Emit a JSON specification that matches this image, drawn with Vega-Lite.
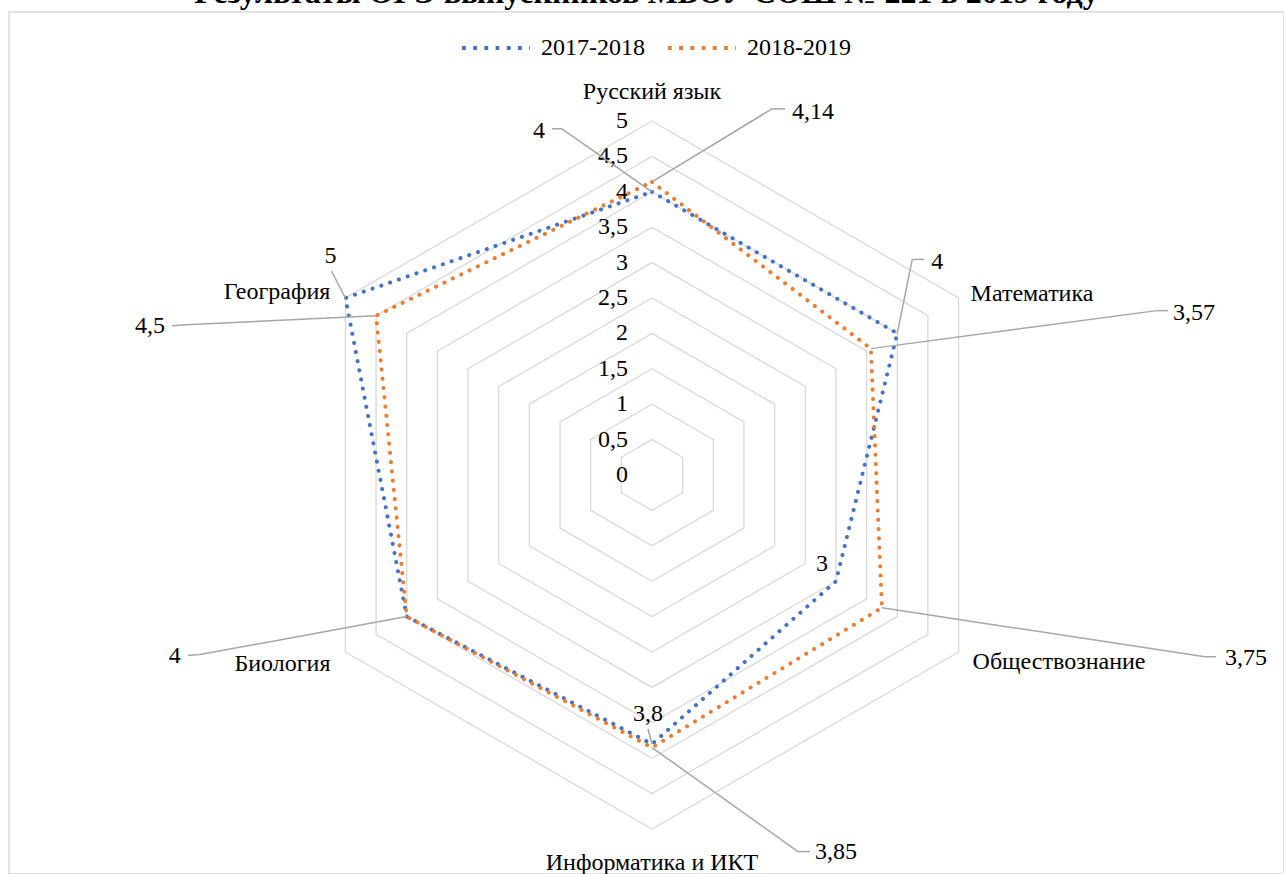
{
  "$schema": "https://vega.github.io/schema/vega-lite/v6.json",
  "width": 1275,
  "height": 862,
  "autosize": {"type": "none"},
  "padding": {"left": 9, "top": 12, "right": 0, "bottom": 0},
  "background": "white",
  "config": {"view": {"stroke": "#d9d9d9", "strokeWidth": 1.5}, "font": "Liberation Serif, Times New Roman, serif"},
  "title": {"text": "Результаты ОГЭ выпускников МБОУ СОШ № 221 в 2019 году", "font": "Liberation Serif, Times New Roman, serif", "fontSize": 32, "fontWeight": "bold", "color": "#000000", "anchor": "middle", "frame": "group", "offset": 2},
  "datasets": {
    "scores": [
      {"subject": "Русский язык", "year": "2017-2018", "value": 4},
      {"subject": "Математика", "year": "2017-2018", "value": 4},
      {"subject": "Обществознание", "year": "2017-2018", "value": 3},
      {"subject": "Информатика и ИКТ", "year": "2017-2018", "value": 3.8},
      {"subject": "Биология", "year": "2017-2018", "value": 4},
      {"subject": "География", "year": "2017-2018", "value": 5},
      {"subject": "Русский язык", "year": "2018-2019", "value": 4.14},
      {"subject": "Математика", "year": "2018-2019", "value": 3.57},
      {"subject": "Обществознание", "year": "2018-2019", "value": 3.75},
      {"subject": "Информатика и ИКТ", "year": "2018-2019", "value": 3.85},
      {"subject": "Биология", "year": "2018-2019", "value": 4},
      {"subject": "География", "year": "2018-2019", "value": 4.5}
    ],
    "grid": [
      {"level": 0}, {"level": 0.5}, {"level": 1}, {"level": 1.5}, {"level": 2}, {"level": 2.5},
      {"level": 3}, {"level": 3.5}, {"level": 4}, {"level": 4.5}, {"level": 5}
    ]
  },
  "layer": [
    {
      "data": {"name": "grid"},
      "transform": [{"filter": "datum.level > 0"}],
      "mark": {"type": "point", "shape": "M0,-1L0.866,-0.5L0.866,0.5L0,1L-0.866,0.5L-0.866,-0.5Z", "filled": false, "stroke": "#d9d9d9", "strokeWidth": 1.3, "opacity": 1},
      "encoding": {
        "x": {"datum": 0, "type": "quantitative", "scale": {"domain": [-9.0819, 8.9266], "nice": false, "zero": false}, "axis": null},
        "y": {"datum": 0, "type": "quantitative", "scale": {"domain": [-5.6356, 6.5395], "nice": false, "zero": false}, "axis": null},
        "size": {"field": "level", "type": "quantitative", "scale": {"type": "pow", "exponent": 2, "domain": [0, 5], "range": [0, 501264]}, "legend": null}
      }
    },
    {
      "data": {"name": "grid"},
      "transform": [{"calculate": "replace(toString(datum.level), '.', ',')", "as": "lab"}],
      "mark": {"type": "text", "align": "right", "baseline": "middle", "dx": -24, "fontSize": 24, "font": "Liberation Serif, Times New Roman, serif", "color": "#000000"},
      "encoding": {
        "x": {"datum": 0, "type": "quantitative"},
        "y": {"field": "level", "type": "quantitative"},
        "text": {"field": "lab"}
      }
    },
    {
      "data": {"name": "scores"},
      "transform": [
        {"calculate": "indexof(['Русский язык','Математика','Обществознание','Информатика и ИКТ','Биология','География'], datum.subject)", "as": "i"},
        {"calculate": "datum.value * sin(datum.i * PI / 3)", "as": "x"},
        {"calculate": "datum.value * cos(datum.i * PI / 3)", "as": "y"}
      ],
      "mark": {"type": "line", "interpolate": "linear-closed", "strokeWidth": 4, "strokeDash": [0.1, 9.2], "strokeCap": "round"},
      "encoding": {
        "x": {"field": "x", "type": "quantitative"},
        "y": {"field": "y", "type": "quantitative"},
        "order": {"field": "i", "type": "quantitative"},
        "color": {
          "field": "year", "type": "nominal",
          "scale": {"domain": ["2017-2018", "2018-2019"], "range": ["#4472c4", "#ed7d31"]},
          "legend": {"orient": "none", "legendX": 451, "legendY": 0, "direction": "horizontal", "title": null, "labelFont": "Liberation Serif, Times New Roman, serif", "labelFontSize": 24, "labelColor": "#000000", "symbolType": "stroke", "symbolSize": 4624, "symbolStrokeWidth": 3.8, "symbolDash": [3.8, 7.4], "columnPadding": 15, "labelOffset": 9}
        }
      }
    },
    {
      "data": {"name": "scores"},
      "transform": [
        {"filter": "datum.year == '2017-2018'"},
        {"calculate": "indexof(['Русский язык','Математика','Обществознание','Информатика и ИКТ','Биология','География'], datum.subject)", "as": "i"},
        {"calculate": "5 * sin(datum.i * PI / 3)", "as": "cx"},
        {"calculate": "5 * cos(datum.i * PI / 3)", "as": "cy"}
      ],
      "encoding": {
        "x": {"field": "cx", "type": "quantitative"},
        "y": {"field": "cy", "type": "quantitative"},
        "text": {"field": "subject"}
      },
      "layer": [
        {"transform": [{"filter": "datum.i == 0"}], "mark": {"type": "text", "align": "center", "baseline": "middle", "dy": -29, "fontSize": 24, "font": "Liberation Serif, Times New Roman, serif", "color": "#000000"}},
        {"transform": [{"filter": "datum.i == 1"}], "mark": {"type": "text", "align": "left", "baseline": "middle", "dx": 12, "dy": -4, "fontSize": 24, "font": "Liberation Serif, Times New Roman, serif", "color": "#000000"}},
        {"transform": [{"filter": "datum.i == 2"}], "mark": {"type": "text", "align": "left", "baseline": "middle", "dx": 14, "dy": 10, "fontSize": 24, "font": "Liberation Serif, Times New Roman, serif", "color": "#000000"}},
        {"transform": [{"filter": "datum.i == 3"}], "mark": {"type": "text", "align": "center", "baseline": "middle", "dy": 34, "fontSize": 24, "font": "Liberation Serif, Times New Roman, serif", "color": "#000000"}},
        {"transform": [{"filter": "datum.i == 4"}], "mark": {"type": "text", "align": "right", "baseline": "middle", "dx": -15, "dy": 12, "fontSize": 24, "font": "Liberation Serif, Times New Roman, serif", "color": "#000000"}},
        {"transform": [{"filter": "datum.i == 5"}], "mark": {"type": "text", "align": "right", "baseline": "middle", "dx": -15, "dy": -6, "fontSize": 24, "font": "Liberation Serif, Times New Roman, serif", "color": "#000000"}}
      ]
    },
    {
      "data": {"name": "scores"},
      "transform": [
        {"calculate": "indexof(['Русский язык','Математика','Обществознание','Информатика и ИКТ','Биология','География'], datum.subject)", "as": "i"},
        {"calculate": "datum.value * sin(datum.i * PI / 3)", "as": "x"},
        {"calculate": "datum.value * cos(datum.i * PI / 3)", "as": "y"},
        {"calculate": "(datum.year == '2017-2018' ? 'b' : 'o') + datum.i", "as": "key"},
        {"calculate": "{'b0': [-107, -61, -90, -63, -100, -63, 'right'], 'o0': [140, -70, 120, -73, 133, -73, 'left'], 'b1': [34, -71, 15, -74, 27, -74, 'left'], 'o1': [302, -36, 286, -38, 297, -38, 'left'], 'b2': [-14, -17, 0, 0, 0, 0, 'center'], 'o2': [343, 50, 323, 49, 334, 49, 'left'], 'b3': [-4, -30, 0, 0, -4, -15, 'center'], 'o3': [163, 104, 146, 104, 158, 104, 'left'], 'o4': [-226, 39, -207, 38, -219, 39, 'right'], 'b5': [-15, -42, 0, 0, -14, -27, 'center'], 'o5': [-211, 10, -190, 9, -204, 10, 'right']}[datum.key]", "as": "off"},
        {"filter": "isValid(datum.off)"},
        {"calculate": "datum.x + datum.off[0] / 70.8", "as": "lx"},
        {"calculate": "datum.y - datum.off[1] / 70.8", "as": "ly"},
        {"calculate": "datum.x + datum.off[2] / 70.8", "as": "ex"},
        {"calculate": "datum.y - datum.off[3] / 70.8", "as": "ey"},
        {"calculate": "datum.x + datum.off[4] / 70.8", "as": "nx"},
        {"calculate": "datum.y - datum.off[5] / 70.8", "as": "ny"},
        {"calculate": "datum.off[6]", "as": "al"},
        {"calculate": "replace(toString(datum.value), '.', ',')", "as": "lab"}
      ],
      "layer": [
        {
          "mark": {"type": "rule", "color": "#a6a6a6", "strokeWidth": 1.5},
          "encoding": {
            "x": {"field": "x", "type": "quantitative"},
            "y": {"field": "y", "type": "quantitative"},
            "x2": {"field": "ex"},
            "y2": {"field": "ey"}
          }
        },
        {
          "mark": {"type": "rule", "color": "#a6a6a6", "strokeWidth": 1.5},
          "encoding": {
            "x": {"field": "ex", "type": "quantitative"},
            "y": {"field": "ey", "type": "quantitative"},
            "x2": {"field": "nx"},
            "y2": {"field": "ny"}
          }
        },
        {
          "transform": [{"filter": "datum.al == 'right'"}],
          "mark": {"type": "text", "align": "right", "baseline": "middle", "fontSize": 24, "font": "Liberation Serif, Times New Roman, serif", "color": "#000000"},
          "encoding": {"x": {"field": "lx", "type": "quantitative"}, "y": {"field": "ly", "type": "quantitative"}, "text": {"field": "lab"}}
        },
        {
          "transform": [{"filter": "datum.al == 'left'"}],
          "mark": {"type": "text", "align": "left", "baseline": "middle", "fontSize": 24, "font": "Liberation Serif, Times New Roman, serif", "color": "#000000"},
          "encoding": {"x": {"field": "lx", "type": "quantitative"}, "y": {"field": "ly", "type": "quantitative"}, "text": {"field": "lab"}}
        },
        {
          "transform": [{"filter": "datum.al == 'center'"}],
          "mark": {"type": "text", "align": "center", "baseline": "middle", "fontSize": 24, "font": "Liberation Serif, Times New Roman, serif", "color": "#000000"},
          "encoding": {"x": {"field": "lx", "type": "quantitative"}, "y": {"field": "ly", "type": "quantitative"}, "text": {"field": "lab"}}
        }
      ]
    }
  ]
}
